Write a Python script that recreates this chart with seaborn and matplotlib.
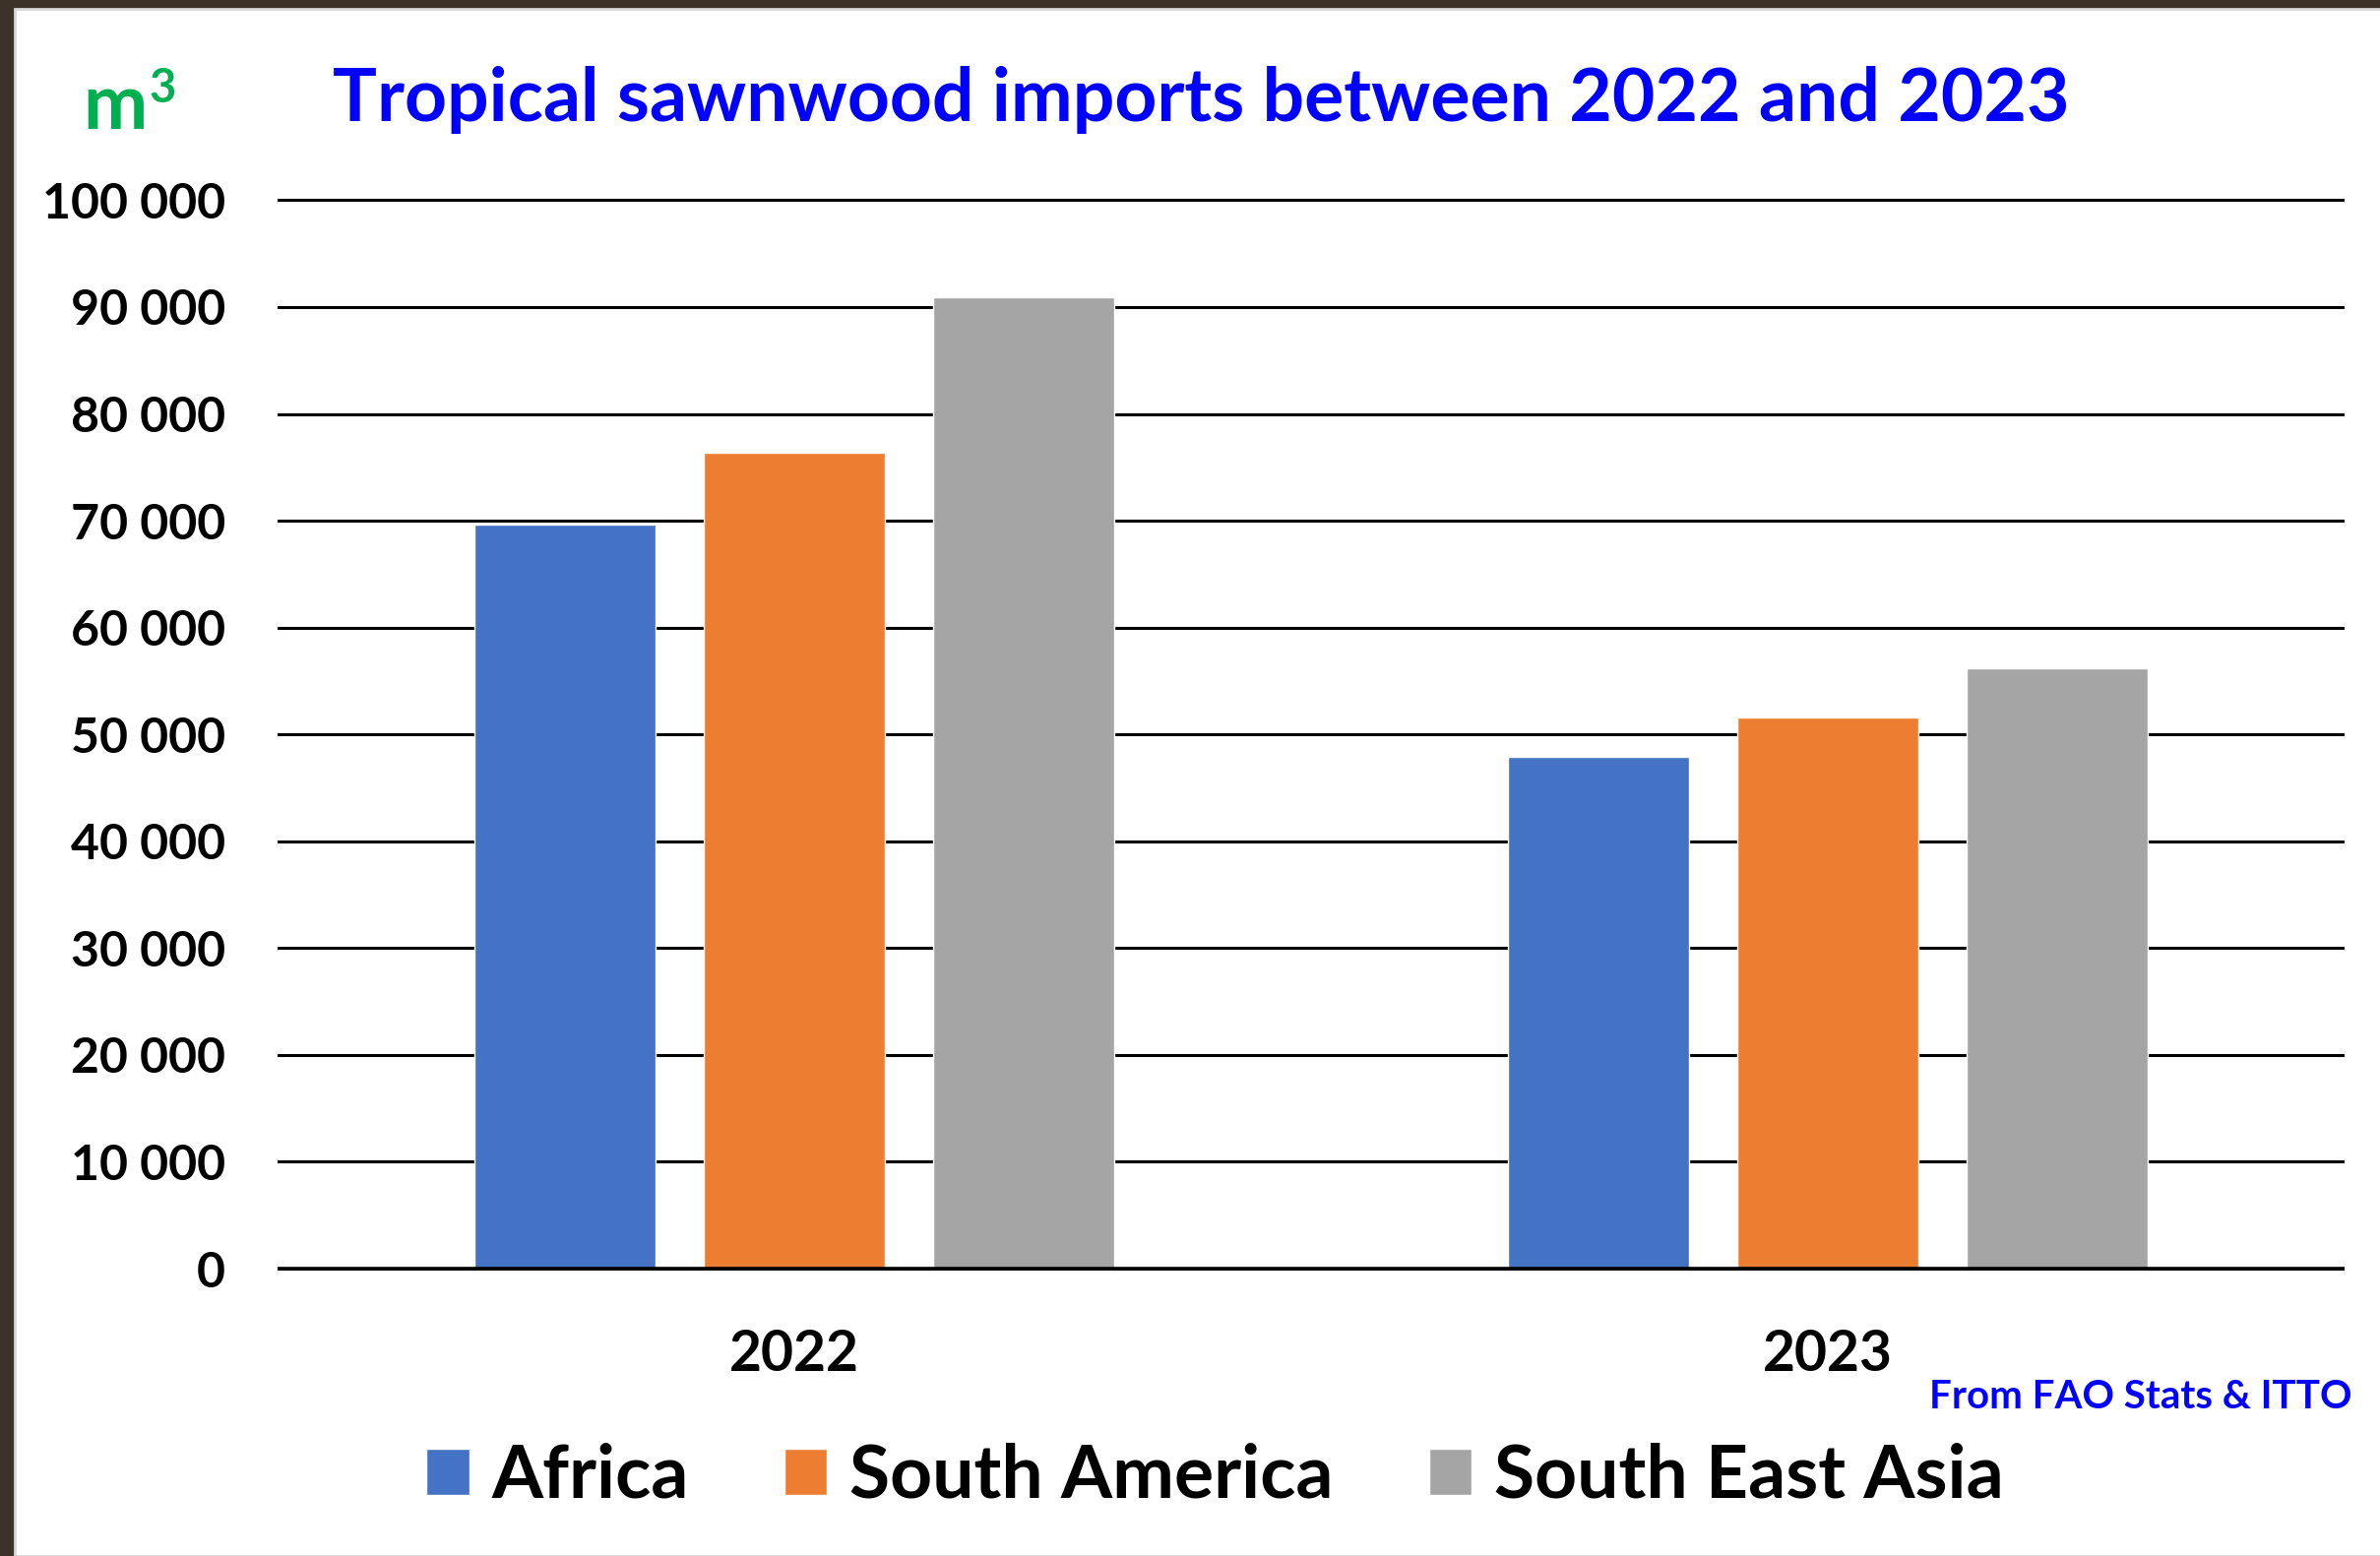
import matplotlib
matplotlib.use("Agg")
import matplotlib.pyplot as plt
from matplotlib.patches import Rectangle
from matplotlib.ticker import FuncFormatter, MultipleLocator
import pandas as pd
import seaborn as sns

years = ["2022", "2023"]
regions = ["Africa", "South America", "South East Asia"]
africa = [69600, 47900]
south_america = [76400, 51600]
south_east_asia = [90900, 56200]
colors = ["#4472C4", "#ED7D31", "#A5A5A5"]

rows = []
for region, vals in zip(regions, [africa, south_america, south_east_asia]):
    for yr, v in zip(years, vals):
        rows.append({"year": yr, "region": region, "volume": v})
df = pd.DataFrame(rows)

sns.set_theme(style="white")
plt.rcParams["font.family"] = ["Lato", "DejaVu Sans"]
plt.rcParams["font.weight"] = "bold"
plt.rcParams["text.color"] = "black"

W, H = 2418, 1581
fig = plt.figure(figsize=(W / 100, H / 100), dpi=100, facecolor="#3d3227")
# white slide panel over the wood background
fig.patches.append(Rectangle((15 / W, 0), 1, 1 - 9 / H, transform=fig.transFigure,
                             facecolor="white", edgecolor="#d8d8d8", linewidth=2, zorder=-10))

ax = fig.add_axes([0.1166, 0.1778, 0.8685, 0.7004])
ax.set_zorder(2)
ax.set_facecolor("none")
sns.barplot(data=df, x="year", y="volume", hue="region", palette=colors, saturation=1,
            width=0.666, gap=0.21, ax=ax, zorder=3, legend=True)

ax.set_ylim(-1000, 101000)
ax.set_xlim(-0.5, 1.5)
ax.yaxis.set_major_locator(MultipleLocator(10000))
ax.yaxis.set_major_formatter(FuncFormatter(lambda v, p: f"{int(v):,}".replace(",", " ")))
ax.grid(axis="y", color="black", linewidth=2.2, zorder=1)
ax.set_axisbelow(True)
ax.axhline(0, color="black", linewidth=2.6, zorder=5)
for s in ax.spines.values():
    s.set_visible(False)
ax.tick_params(axis="y", length=0, pad=38, labelsize=36, labelcolor="black")
ax.tick_params(axis="x", length=0, pad=36, labelsize=41, labelcolor="black")
for lab in ax.get_xticklabels() + ax.get_yticklabels():
    lab.set_fontweight("bold")
ax.set_xlabel("")
ax.set_ylabel("")

handles, labels = ax.get_legend_handles_labels()
ax.get_legend().remove()
leg = fig.legend(handles, labels, loc="center", bbox_to_anchor=(0.5105, 0.051), ncol=3,
                 frameon=False, prop={"size": 54, "weight": "bold"}, handlelength=0.58,
                 handleheight=0.58, handletextpad=0.3, columnspacing=1.3)
for t in leg.get_texts():
    t.set_color("black")

fig.text(0.5045, 0.922, "Tropical sawnwood imports between 2022 and 2023", ha="center",
         va="baseline", color="#0000FF", fontsize=54, fontweight="bold")
fig.text(0.035, 0.917, "m", ha="left", va="baseline", color="#00B050", fontsize=56, fontweight="bold")
fig.text(0.0625, 0.934, "3", ha="left", va="baseline", color="#00B050", fontsize=34, fontweight="bold")
fig.text(0.9884, 0.0949, "From FAO Stats & ITTO", ha="right", va="baseline", color="#0000FF",
         fontsize=29, fontweight="bold")

fig.savefig("out.png", dpi=100, facecolor=fig.get_facecolor())
